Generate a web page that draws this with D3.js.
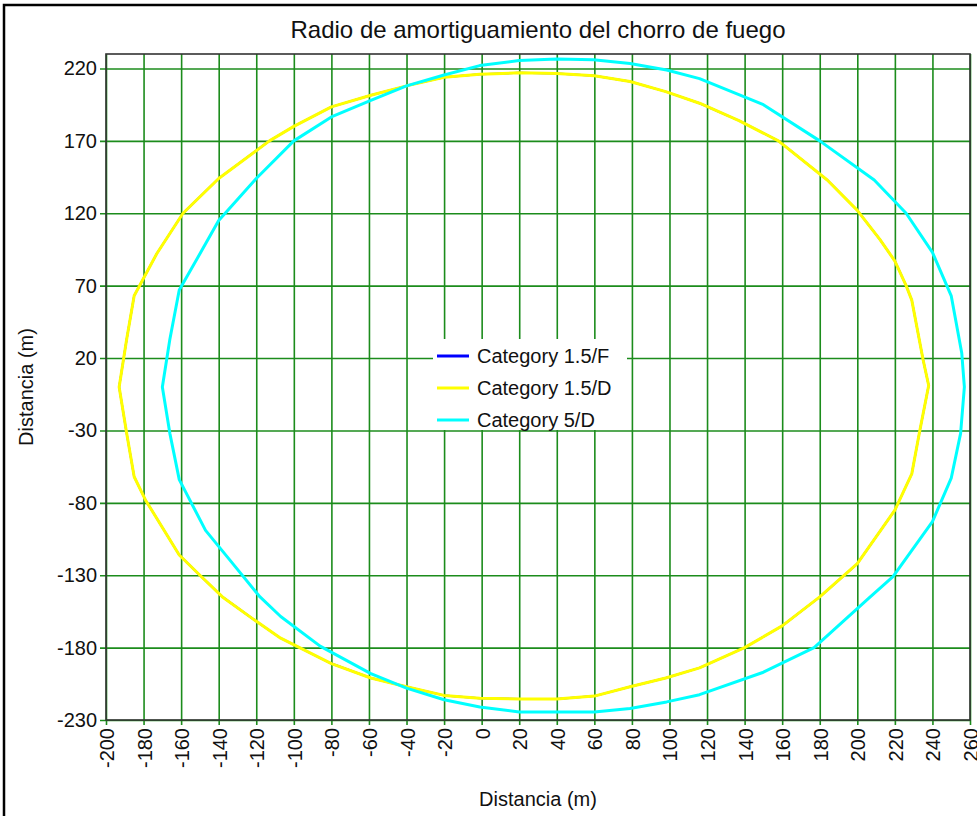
<!DOCTYPE html>
<html lang="es">
<head>
<meta charset="UTF-8">
<title>Radio de amortiguamiento del chorro de fuego</title>
<script src="https://d3js.org/d3.v7.min.js"></script>
<style>
    body { margin: 0; background: #fff; font-family: Arial, "Liberation Sans", sans-serif; }
    .grid line { stroke: #1c8c1c; stroke-width: 1.6; }
    .tick-label { font-size: 20px; fill: #111; }
    .axis-title { font-size: 20px; fill: #111; }
    .legend text { font-size: 20px; fill: #111; }
</style>
</head>
<body>
<svg width="977" height="816"></svg>
<script>
    // tick values
    const xTickValues = [-200, -180, -160, -140, -120, -100, -80, -60, -40, -20, 0, 20, 40, 60, 80, 100, 120, 140, 160, 180, 200, 220, 240, 260];
    const yTickValues = [-230, -180, -130, -80, -30, 20, 70, 120, 170, 220];

    const seriesNames = ["Category 1.5/F", "Category 1.5/D", "Category 5/D"];
    const seriesColors = ["#0000ff", "#ffff00", "#00ffff"];

    // 1.5/F lies exactly under 1.5/D (same wind speed), so it never shows
    const cat15F = [
        [238, 1], [235, 19], [229, 60], [226, 70], [220, 87], [212, 102], [200, 122], [184, 143],
        [158, 170], [137, 184], [116, 196], [98, 204], [79, 211], [60, 215], [40, 216.5], [20, 217],
        [-1, 216], [-20, 214], [-40, 208], [-59, 201.5], [-80, 193.5], [-100, 180], [-113, 170],
        [-140, 144], [-159, 120], [-173, 92], [-185, 63], [-189, 33], [-193, 0], [-189, -32],
        [-185, -62], [-179, -78], [-161, -116], [-150, -130], [-138, -145], [-122, -160],
        [-107, -173.5], [-80, -191], [-59, -201], [-40, -207], [-20, -213], [-1, -215], [20, -215.5],
        [40, -215.5], [60, -213.5], [79, -207], [98, -201], [116, -194], [140, -180], [160, -165],
        [180, -145], [200, -122], [220, -85], [229, -60], [233, -32]
    ];
    const cat15D = [
        [238, 1], [235, 19], [229, 60], [226, 70], [220, 87], [212, 102], [200, 122], [184, 143],
        [158, 170], [137, 184], [116, 196], [98, 204], [79, 211], [60, 215], [40, 216.5], [20, 217],
        [-1, 216], [-20, 214], [-40, 208], [-59, 201.5], [-80, 193.5], [-100, 180], [-113, 170],
        [-140, 144], [-159, 120], [-173, 92], [-185, 63], [-189, 33], [-193, 0], [-189, -32],
        [-185, -62], [-179, -78], [-161, -116], [-150, -130], [-138, -145], [-122, -160],
        [-107, -173.5], [-80, -191], [-59, -201], [-40, -207], [-20, -213], [-1, -215], [20, -215.5],
        [40, -215.5], [60, -213.5], [79, -207], [98, -201], [116, -194], [140, -180], [160, -165],
        [180, -145], [200, -122], [220, -85], [229, -60], [233, -32]
    ];
    const cat5D = [
        [257, 0], [255.6, 23.5], [250, 63], [240, 93], [226, 120], [209, 143], [180, 170], [150, 195],
        [116, 213], [98.5, 219], [79, 223.5], [59.5, 226], [40, 226.5], [20, 225.5], [-1, 222],
        [-20, 215.5], [-40, 208], [-59, 198], [-80, 186.5], [-100, 170], [-120, 144], [-140, 115],
        [-150, 92], [-161, 67], [-166, 33], [-170, 0], [-166, -32], [-161, -64], [-147, -99],
        [-132.5, -122], [-118, -145], [-107, -158.5], [-86, -179], [-59, -198], [-40, -208],
        [-20, -216], [-1, -221], [20, -224.5], [40, -224.5], [60, -224.5], [79, -222], [98.5, -217.5],
        [116, -212.5], [150, -197], [177, -180], [206, -146], [219, -131], [240, -93], [250, -63],
        [255, -32]
    ];
    const allSeries = [cat15F, cat15D, cat5D];
    const strokeWidths = [2, 3, 3]; // thinner blue so the yellow fully hides it

    const plot = { left: 106, right: 970, top: 54, bottom: 720 };

    const svg = d3.select("svg");

    // outer frame
    svg.append("rect")
       .attr("x", 4).attr("y", 5)
       .attr("width", 1000).attr("height", 1000)
       .attr("fill", "#fff")
       .attr("stroke", "#000")
       .attr("stroke-width", 2.5);

    const xScale = d3.scaleLinear().domain([-200, 260]).range([plot.left, plot.right]);
    const yScale = d3.scaleLinear().domain([-230, 230]).range([plot.bottom, plot.top]);

    svg.append("text")
       .attr("x", (plot.left + plot.right) / 2)
       .attr("y", 38)
       .attr("text-anchor", "middle")
       .style("font-size", "24px")
       .attr("fill", "#111")
       .text("Radio de amortiguamiento del chorro de fuego");

    // grid (lines stick out a few px past the frame as tick marks)
    svg.append("g")
       .attr("class", "grid")
       .attr("transform", `translate(${plot.left},0)`)
       .call(d3.axisLeft(yScale).tickValues(yTickValues)
               .tickSize(-(plot.right - plot.left)).tickSizeOuter(0).tickFormat(""))
       .call(g => g.select(".domain").remove())
       .selectAll("line").attr("x1", -6);

    svg.append("g")
       .attr("class", "grid")
       .attr("transform", `translate(0,${plot.bottom})`)
       .call(d3.axisBottom(xScale).tickValues(xTickValues)
               .tickSize(-(plot.bottom - plot.top)).tickSizeOuter(0).tickFormat(""))
       .call(g => g.select(".domain").remove())
       .selectAll("line").attr("y1", 5);

    // tick labels
    svg.append("g").selectAll("text")
       .data(yTickValues)
       .join("text")
       .attr("class", "tick-label")
       .attr("x", 97)
       .attr("y", d => yScale(d))
       .attr("dy", "0.35em")
       .attr("text-anchor", "end")
       .text(d => d);

    svg.append("g").selectAll("text")
       .data(xTickValues)
       .join("text")
       .attr("class", "tick-label")
       .attr("transform", d => `translate(${xScale(d) + 1},728) rotate(-90)`)
       .attr("dy", "0.35em")
       .attr("text-anchor", "end")
       .text(d => d);

    // curves
    const line = d3.line()
                   .x(d => xScale(d[0]))
                   .y(d => yScale(d[1]))
                   .curve(d3.curveLinearClosed);

    svg.append("g").selectAll("path")
       .data(allSeries)
       .join("path")
       .attr("d", line)
       .attr("fill", "none")
       .attr("stroke", (d, i) => seriesColors[i])
       .attr("stroke-width", (d, i) => strokeWidths[i])
       .attr("stroke-linejoin", "round");

    // plot frame
    svg.append("rect")
       .attr("x", plot.left).attr("y", plot.top)
       .attr("width", plot.right - plot.left)
       .attr("height", plot.bottom - plot.top)
       .attr("fill", "none")
       .attr("stroke", "#333")
       .attr("stroke-width", 1.6);

    // legend
    const legend = svg.append("g").attr("class", "legend");
    legend.append("rect")
          .attr("x", 433).attr("y", 339)
          .attr("width", 194).attr("height", 91)
          .attr("fill", "#fff");
    seriesNames.forEach((name, i) => {
        const y = 356 + i * 32;
        legend.append("line")
              .attr("x1", 437).attr("x2", 469)
              .attr("y1", y).attr("y2", y)
              .attr("stroke", seriesColors[i])
              .attr("stroke-width", 3);
        legend.append("text")
              .attr("x", 477).attr("y", y)
              .attr("dy", "0.35em")
              .text(name);
    });

    // axis titles
    svg.append("text")
       .attr("class", "axis-title")
       .attr("x", (plot.left + plot.right) / 2)
       .attr("y", 806)
       .attr("text-anchor", "middle")
       .text("Distancia (m)");

    svg.append("text")
       .attr("class", "axis-title")
       .attr("transform", `translate(33,${(plot.top + plot.bottom) / 2}) rotate(-90)`)
       .attr("text-anchor", "middle")
       .text("Distancia (m)");
</script>
</body>
</html>
